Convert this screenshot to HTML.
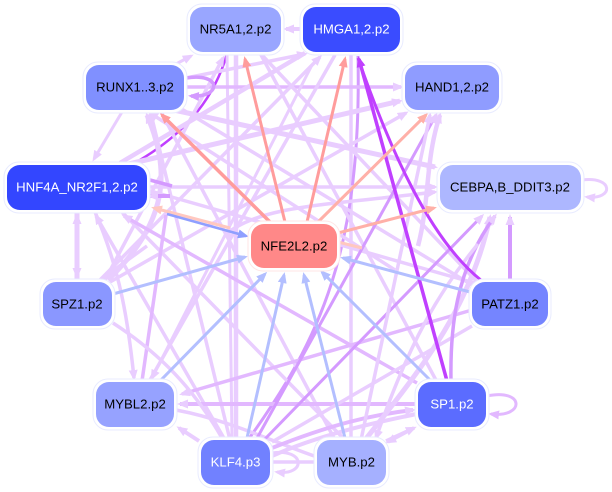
<!DOCTYPE html>
<html><head><meta charset="utf-8"><style>
html,body{margin:0;padding:0;background:#fff;width:612px;height:492px;overflow:hidden}
svg{display:block}
text{font-family:"Liberation Sans",sans-serif;font-size:13.2px;text-anchor:middle;fill:#000}
.w{fill:#fff}
.e path{fill:none}
.L{stroke:#e9cdff}.M{stroke:#e2b8ff}.D{stroke:#d49aff}.V{stroke:#c040ff}.S{stroke:#ff9c9c}.P{stroke:#ffb0a8}.Q{stroke:#ffc8c0}.B{stroke:#b3bfff}.C{stroke:#8f9fff}
.la{marker-end:url(#aL)}.ma{marker-end:url(#aM)}.da{marker-end:url(#aD)}.va{marker-end:url(#aV)}.sa{marker-end:url(#aS)}.pa{marker-end:url(#aP)}.qa{marker-end:url(#aQ)}.ba{marker-end:url(#aB)}.ca{marker-end:url(#aC)}
.o{fill:#fff;stroke:#e8ebff;stroke-width:1}
</style></head><body>
<svg width="612" height="492" viewBox="0 0 612 492" xmlns="http://www.w3.org/2000/svg">
<defs>
<marker id="aL" markerUnits="userSpaceOnUse" markerWidth="13" markerHeight="10" refX="8" refY="5" orient="auto"><path d="M0,0.500L11,5L0,9.500z" fill="#e9cdff"/></marker>
<marker id="aM" markerUnits="userSpaceOnUse" markerWidth="13" markerHeight="10" refX="8" refY="5" orient="auto"><path d="M0,0.500L11,5L0,9.500z" fill="#e2b8ff"/></marker>
<marker id="aD" markerUnits="userSpaceOnUse" markerWidth="13" markerHeight="10" refX="8" refY="5" orient="auto"><path d="M0,0.500L11,5L0,9.500z" fill="#d49aff"/></marker>
<marker id="aV" markerUnits="userSpaceOnUse" markerWidth="13" markerHeight="10" refX="8" refY="5" orient="auto"><path d="M0,0.500L11,5L0,9.500z" fill="#c040ff"/></marker>
<marker id="aS" markerUnits="userSpaceOnUse" markerWidth="13" markerHeight="10" refX="8" refY="5" orient="auto"><path d="M0,0.500L11,5L0,9.500z" fill="#ff9c9c"/></marker>
<marker id="aP" markerUnits="userSpaceOnUse" markerWidth="13" markerHeight="10" refX="8" refY="5" orient="auto"><path d="M0,0.500L11,5L0,9.500z" fill="#ffb0a8"/></marker>
<marker id="aQ" markerUnits="userSpaceOnUse" markerWidth="13" markerHeight="10" refX="8" refY="5" orient="auto"><path d="M0,0.500L11,5L0,9.500z" fill="#ffc8c0"/></marker>
<marker id="aB" markerUnits="userSpaceOnUse" markerWidth="13" markerHeight="10" refX="8" refY="5" orient="auto"><path d="M0,0.500L11,5L0,9.500z" fill="#b3bfff"/></marker>
<marker id="aC" markerUnits="userSpaceOnUse" markerWidth="13" markerHeight="10" refX="8" refY="5" orient="auto"><path d="M0,0.500L11,5L0,9.500z" fill="#8f9fff"/></marker>
</defs>
<g class="e" stroke-width="3">
<!-- violet under the light edges -->
<path class="V" stroke-width="2.500" d="M227,54C215,95 190,130 140,160"/>
<!-- verticals and thick -->
<path class="L" stroke-width="4.500" d="M236,440L236,54"/>
<path class="L" stroke-width="3" d="M232,440L227,54"/>
<path class="L" stroke-width="3.500" d="M351,440L351,54"/>
<path class="D" stroke-width="3" d="M248,440C320,340 362,250 358,56"/>
<path class="L la" stroke-width="5" d="M160,107L435,167"/>
<path class="L la" stroke-width="5" d="M120,166L400,101"/>
<path class="L la" stroke-width="3.500" d="M148,187L435,187"/>
<path class="M la" stroke-width="3.500" d="M186,87L401,87"/>
<path class="L la" stroke-width="3" d="M122,112L94,159"/>
<path class="L la" stroke-width="3" d="M176,64L191,56"/>
<path class="L la" stroke-width="4" d="M302,29L286,29"/>
<path class="L la" stroke-width="3.500" d="M186,78L305,54"/>
<path class="L" stroke-width="4.500" d="M120,163L305,53"/>
<!-- to HMGA / NR5A1 from lower left -->
<path class="L la" stroke-width="3.500" d="M100,280L320,57"/>
<path class="L la" stroke-width="3.500" d="M105,280L223,58"/>
<path class="L" stroke-width="3.500" d="M335,55L150,380"/>
<path class="L la" stroke-width="3" d="M312,65L152,378"/>
<path class="L la" stroke-width="3.500" d="M110,282L406,113"/>
<!-- from NR5A1 / RUNX1 to lower right -->
<path class="L" stroke-width="3.500" d="M260,53L437,382"/>
<path class="L" stroke-width="3.500" d="M260,53L480,285"/>
<path class="L" stroke-width="3.500" d="M180,108L472,285"/>
<path class="L" stroke-width="3.500" d="M150,110L230,440"/>
<path class="L" stroke-width="3.500" d="M160,110L335,440"/>
<path class="L" stroke-width="3.500" d="M147,190L478,284"/>
<path class="L la" stroke-width="3.500" d="M225,235C260,205 330,205 435,192"/>
<path class="L la" stroke-width="3.500" d="M395,270L150,113"/>
<!-- RUNX1 curves -->
<path class="L la" stroke-width="5" d="M108,280C170,220 170,170 147,115"/>
<path class="L" stroke-width="3.500" d="M147,246L100,280"/>
<!-- HNF4A bottom -->
<path class="L la" stroke-width="5" d="M77,280L77,216"/>
<path class="L la" stroke-width="5" d="M77,212L77,276"/>
<path class="L la" stroke-width="3.500" d="M225,440L96,216"/>
<path class="L" stroke-width="3.500" d="M120,210L345,440"/>
<path class="M la" stroke-width="3.500" d="M417,383L124,216"/>
<path class="D" stroke-width="3.500" d="M150,180L172,186"/>
<path class="D la" stroke-width="4" d="M170,196L150,196"/>
<!-- MYBL2 -->
<path class="L la" stroke-width="3.500" d="M95,212C120,270 128,320 134,378"/>
<path class="M" stroke-width="3.500" d="M142,381L166,215"/>
<path class="M la" stroke-width="3.500" d="M472,310L182,394"/>
<path class="M la" stroke-width="4" d="M416,404L180,404"/>
<path class="L" stroke-width="3.500" d="M176,410C230,420 280,445 320,458"/>
<path class="L la" stroke-width="4" d="M199,441L179,428"/>
<path class="L" stroke-width="3.500" d="M113,323C170,360 200,400 222,438"/>
<!-- KLF4 fan -->
<path class="D la" stroke-width="3" d="M256,440L436,115"/>
<path class="D la" stroke-width="3" d="M264,440L482,216"/>
<path class="L" stroke-width="3.500" d="M272,442L472,326"/>
<path class="M la" stroke-width="4" d="M272,448C330,425 370,415 413,410"/>
<path class="L" stroke-width="4" d="M272,456C330,430 400,418 416,414"/>
<!-- MYB fan -->
<path class="L la" stroke-width="3.500" d="M361,440L430,115"/>
<path class="L la" stroke-width="5" d="M365,440C420,370 470,310 490,217"/>
<path class="L la" stroke-width="4.500" d="M418,246C430,200 425,160 440,115"/>
<path class="L la" stroke-width="3.500" d="M386,441L414,428"/>
<path class="L la" stroke-width="3.500" d="M414,428L388,442"/>
<path class="L" stroke-width="3.500" d="M270,462L316,462"/>
<!-- SP1, PATZ1 -->
<path class="D la" stroke-width="3.500" d="M451,382C450,330 455,270 495,216"/>
<path class="D la" stroke-width="4" d="M510,282L510,217"/>
<path class="L la" stroke-width="3.500" d="M478,244C440,290 410,340 376,438"/>
<!-- violet -->
<path class="V va" stroke-width="3.500" d="M447,381L359,59"/>
<path class="V" stroke-width="3" d="M482,281C430,240 390,150 358,58"/>
<!-- salmon -->
<path class="S sa" d="M285,222L245,59"/>
<path class="S sa" d="M307,222L345,59"/>
<path class="S sa" stroke-width="3.500" d="M270,222L162,115"/>
<path class="P pa" d="M318,222L426,115"/>
<path class="P pa" d="M338,233L434,208"/>
<path class="Q qa" d="M230,228L154,208"/>
<path class="Q" d="M338,242L362,248"/>
<!-- blue -->
<path class="C ca" stroke-width="2.500" d="M167,214L246,236"/>
<path class="B ba" d="M113,294L245,257"/>
<path class="B ba" d="M160,381L265,274"/>
<path class="B ba" d="M247,438L284,275"/>
<path class="B ba" d="M345,438L304,275"/>
<path class="B ba" d="M430,380L322,272"/>
<path class="B ba" d="M470,292L343,258"/>
<!-- loops -->
<path class="D da" stroke-width="3.500" d="M186,78C222,72 222,98 191,96"/>
<path class="M ma" stroke-width="3" d="M487,396C525,388 525,418 491,414"/>
<path class="L la" stroke-width="3" d="M582,180C614,176 614,200 587,197"/>
<path class="L la" stroke-width="3" d="M272,453C306,448 306,476 277,472"/>
</g>
<g>
<rect class="o" x="187" y="4" width="97" height="51" rx="15"/><rect x="190" y="7" width="91" height="45" rx="13" fill="#99a6ff"/><text x="235.500" y="33.500">NR5A1,2.p2</text>
<rect class="o" x="300" y="4" width="103" height="51" rx="15"/><rect x="303" y="7" width="97" height="45" rx="13" fill="#3a4cff"/><text class="w" x="351.500" y="33.500">HMGA1,2.p2</text>
<rect class="o" x="83" y="62" width="104" height="51" rx="15"/><rect x="86" y="65" width="98" height="45" rx="13" fill="#8090ff"/><text x="135" y="91.500">RUNX1..3.p2</text>
<rect class="o" x="402" y="62" width="100" height="51" rx="15"/><rect x="405" y="65" width="94" height="45" rx="13" fill="#8f9cff"/><text x="452" y="91.500">HAND1,2.p2</text>
<rect class="o" x="4" y="162" width="146" height="51" rx="15"/><rect x="7" y="165" width="140" height="45" rx="13" fill="#3346ff"/><text class="w" x="77" y="191.500">HNF4A_NR2F1,2.p2</text>
<rect class="o" x="437" y="162" width="147" height="51" rx="15"/><rect x="440" y="165" width="141" height="45" rx="13" fill="#adb7ff"/><text x="510" y="191.500">CEBPA,B_DDIT3.p2</text>
<rect x="248" y="221" width="92" height="50" rx="15" fill="#fff" stroke="#ffe6e6"/><rect x="251" y="224" width="86" height="44" rx="13" fill="#ff8888"/><text x="294" y="250.500">NFE2L2.p2</text>
<rect class="o" x="40" y="279" width="75" height="50" rx="15"/><rect x="43" y="282" width="69" height="44" rx="13" fill="#8a97ff"/><text x="77" y="308.500">SPZ1.p2</text>
<rect class="o" x="469" y="279" width="82" height="50" rx="15"/><rect x="472" y="282" width="76" height="44" rx="13" fill="#7585ff"/><text x="510" y="308.500">PATZ1.p2</text>
<rect class="o" x="93" y="379" width="84" height="51" rx="15"/><rect x="96" y="382" width="78" height="45" rx="13" fill="#96a2ff"/><text x="135" y="408.500">MYBL2.p2</text>
<rect class="o" x="415" y="379" width="74" height="51" rx="15"/><rect x="418" y="382" width="68" height="45" rx="13" fill="#5b6cff"/><text class="w" x="452" y="408.500">SP1.p2</text>
<rect class="o" x="198" y="437" width="75" height="51" rx="15"/><rect x="201" y="440" width="69" height="45" rx="13" fill="#7181ff"/><text class="w" x="235.500" y="466.500">KLF4.p3</text>
<rect class="o" x="314" y="437" width="75" height="51" rx="15"/><rect x="317" y="440" width="69" height="45" rx="13" fill="#a5b0ff"/><text x="351.500" y="466.500">MYB.p2</text>
</g>
</svg>
</body></html>
